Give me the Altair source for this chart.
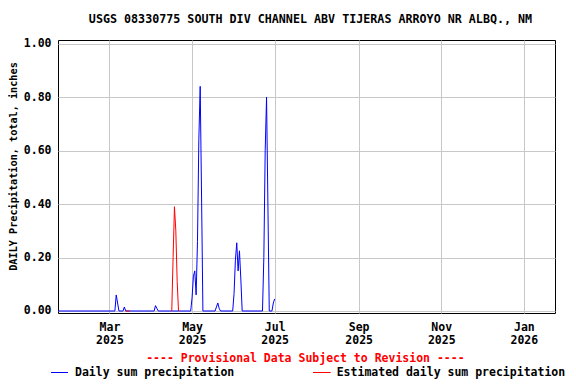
import altair as alt
import pandas as pd

title_text = "USGS 08330775 SOUTH DIV CHANNEL ABV TIJERAS ARROYO NR ALBQ., NM"
y_title = "DAILY Precipitation, total, inches"
provisional_text = "---- Provisional Data Subject to Revision ----"
series_names = ["Daily sum precipitation", "Estimated daily sum precipitation"]
series_colors = ["#0000ff", "#ff0000"]

blue_dates = [
    "2025-01-22",
    "2025-03-05", "2025-03-06", "2025-03-07", "2025-03-08",
    "2025-03-11", "2025-03-12", "2025-03-13",
    "2025-03-16",
    "2025-04-03", "2025-04-04", "2025-04-05", "2025-04-06",
    "2025-04-16",
    "2025-04-21",
    "2025-04-30", "2025-05-01", "2025-05-02", "2025-05-03", "2025-05-04",
    "2025-05-05", "2025-05-06", "2025-05-07", "2025-05-08", "2025-05-09",
    "2025-05-18", "2025-05-19", "2025-05-20", "2025-05-21", "2025-05-22",
    "2025-05-31", "2025-06-01", "2025-06-02", "2025-06-03", "2025-06-04",
    "2025-06-05", "2025-06-06", "2025-06-07",
    "2025-06-22", "2025-06-23", "2025-06-24", "2025-06-25", "2025-06-26",
    "2025-06-27",
    "2025-06-29", "2025-06-30", "2025-07-01",
]
blue_values = [
    0.0,
    0.0, 0.06, 0.03, 0.0,
    0.0, 0.015, 0.0,
    0.0,
    0.0, 0.02, 0.01, 0.0,
    0.0,
    0.0,
    0.0, 0.05, 0.13, 0.15, 0.06,
    0.26, 0.64, 0.84, 0.43, 0.0,
    0.0, 0.015, 0.03, 0.01, 0.0,
    0.0, 0.065, 0.19, 0.255, 0.15,
    0.225, 0.12, 0.0,
    0.0, 0.20, 0.60, 0.80, 0.40,
    0.0,
    0.0, 0.03, 0.045,
]

red_dates_a = ["2025-03-13", "2025-03-14", "2025-03-15", "2025-03-16"]
red_values_a = [0.0, 0.0, 0.0, 0.0]
red_dates_b = ["2025-04-16", "2025-04-17", "2025-04-18", "2025-04-19",
               "2025-04-20", "2025-04-21"]
red_values_b = [0.0, 0.20, 0.39, 0.30, 0.11, 0.0]

y_ticks = [0.0, 0.2, 0.4, 0.6, 0.8, 1.0]

FONT = "DejaVu Sans Mono"
FS = 11.5
FS_YT = 10.2

df = pd.concat([
    pd.DataFrame({"date": blue_dates, "value": blue_values,
                  "series": series_names[0], "seg": "b"}),
    pd.DataFrame({"date": red_dates_a, "value": red_values_a,
                  "series": series_names[1], "seg": "r1"}),
    pd.DataFrame({"date": red_dates_b, "value": red_values_b,
                  "series": series_names[1], "seg": "r2"}),
])

x_enc = alt.X(
    "date:T",
    scale=alt.Scale(type="utc", domain=[alt.DateTime(year=2025, month=1, date=22, utc=True),
                                        alt.DateTime(year=2026, month=1, date=24, utc=True)]),
    axis=alt.Axis(
        values=[alt.DateTime(year=2025, month=m, date=1, utc=True) for m in [3, 5, 7, 9, 11]]
        + [alt.DateTime(year=2026, month=1, date=1, utc=True)],
        labelExpr="[utcFormat(datum.value, '%b'), utcFormat(datum.value, '%Y')]",
        title=None, ticks=False, domain=False, grid=True,
        labelFont=FONT, labelFontSize=FS, labelFontWeight="bold", labelColor="black",
        labelPadding=8, labelLineHeight=13, labelBaseline="top", labelAlign="center",
        gridColor="#c8c8c8", gridWidth=1,
    ),
)
y_enc = alt.Y(
    "value:Q",
    scale=alt.Scale(domain=[-0.0075, 1.0134], nice=False, zero=False),
    axis=alt.Axis(
        values=y_ticks, format=".2f", title=y_title,
        ticks=False, domain=False, grid=True,
        labelFont=FONT, labelFontSize=FS, labelFontWeight="bold", labelColor="black",
        labelPadding=7,
        titleFont=FONT, titleFontSize=FS_YT, titleFontWeight="bold", titleColor="black",
        titleAngle=270, titleX=-45, titleY=126, titleAlign="center", titleBaseline="middle",
        gridColor="#c8c8c8", gridWidth=1,
    ),
)

lines = alt.Chart(df).mark_line(strokeWidth=1, interpolate="linear", clip=True).encode(
    x=x_enc,
    y=y_enc,
    color=alt.Color("series:N", scale=alt.Scale(domain=series_names, range=series_colors),
                    legend=None),
    detail="seg:N",
    order=alt.Order("date:T"),
)

one = pd.DataFrame({"k": [0]})

title_mark = alt.Chart(one).mark_text(
    font=FONT, fontSize=11.7, fontWeight="bold", color="black", align="center", baseline="middle"
).encode(x=alt.value(252.5), y=alt.value(-21), text=alt.value(title_text))

prov_mark = alt.Chart(one).mark_text(
    font=FONT, fontSize=FS, fontWeight="bold", color="#ff0000", align="center", baseline="middle"
).encode(x=alt.value(247.4), y=alt.value(319), text=alt.value(provisional_text))

leg_rule_b = alt.Chart(one).mark_rule(color=series_colors[0], strokeWidth=1).encode(
    x=alt.value(-7), x2=alt.value(10), y=alt.value(332.5))
leg_text_b = alt.Chart(one).mark_text(
    font=FONT, fontSize=FS, fontWeight="bold", color="black", align="left", baseline="middle"
).encode(x=alt.value(17), y=alt.value(333), text=alt.value(series_names[0]))
leg_rule_r = alt.Chart(one).mark_rule(color=series_colors[1], strokeWidth=1).encode(
    x=alt.value(255), x2=alt.value(272.7), y=alt.value(332.5))
leg_text_r = alt.Chart(one).mark_text(
    font=FONT, fontSize=FS, fontWeight="bold", color="black", align="left", baseline="middle"
).encode(x=alt.value(278.7), y=alt.value(333), text=alt.value(series_names[1]))

chart = alt.layer(
    lines, title_mark, prov_mark, leg_rule_b, leg_text_b, leg_rule_r, leg_text_r
).properties(
    width=497, height=273,
    padding={"left": 50, "top": 32, "right": 13, "bottom": 68},
    autosize=alt.AutoSizeParams(type="none"),
    background="white",
).configure_view(stroke="black", strokeWidth=1)

chart.save("out.html", embed_options={"renderer": "svg", "actions": False})
